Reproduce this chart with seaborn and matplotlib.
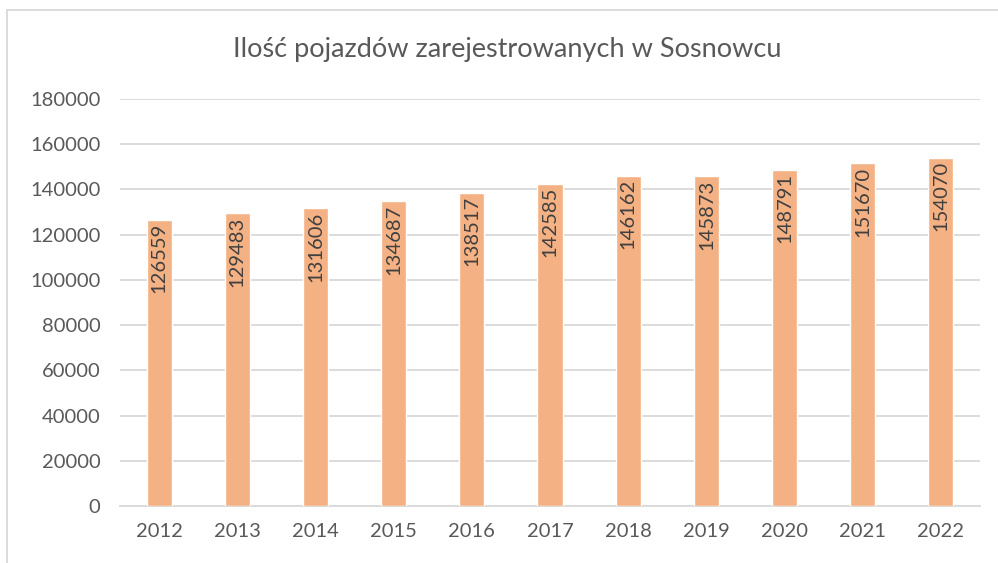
import matplotlib
matplotlib.use("Agg")
import matplotlib.pyplot as plt
import seaborn as sns
import pandas as pd

years = ["2012", "2013", "2014", "2015", "2016", "2017", "2018", "2019", "2020", "2021", "2022"]
vehicles = [126559, 129483, 131606, 134687, 138517, 142585, 146162, 145873, 148791, 151670, 154070]
title = "Ilość pojazdów zarejestrowanych w Sosnowcu"

sns.set_theme(style="white")
plt.rcParams['font.family'] = ['Lato', 'DejaVu Sans']

df = pd.DataFrame({"year": years, "count": vehicles})
text_col = "#595959"
grid_col = "#D9D9D9"

fig = plt.figure(figsize=(9.98, 5.63), dpi=100)
ax = fig.add_axes([120/998, 1 - 506/563, (980-120)/998, (506-99)/563])

sns.barplot(data=df, x="year", y="count", color="#F4B183", width=0.32,
            saturation=1, ax=ax, zorder=3)

ax.set_ylim(0, 180000)
ax.set_yticks(range(0, 180001, 20000))
ax.yaxis.grid(True, color=grid_col, linewidth=1.3, zorder=0)
ax.set_axisbelow(True)
for s in ["top", "right", "left"]:
    ax.spines[s].set_visible(False)
ax.spines["bottom"].set_color(grid_col)
ax.spines["bottom"].set_linewidth(1.3)
ax.set_xlabel("")
ax.set_ylabel("")
ax.tick_params(axis="both", length=0, labelsize=14.5, colors=text_col)
ax.tick_params(axis="x", pad=12)
ax.tick_params(axis="y", pad=14)

for i, v in enumerate(vehicles):
    ax.text(i, v - 1500, str(v), rotation=90, ha="center", va="top",
            fontsize=14.5, color="#404040", zorder=4)

fig.text(507/998, 1 - 49/563, title, ha="center", va="center",
         fontsize=19.5, color=text_col)

# chart border (left and top visible)
fig.add_artist(plt.Line2D([7/998, 7/998], [0, 1 - 10/563], transform=fig.transFigure,
                          color=grid_col, linewidth=1.3))
fig.add_artist(plt.Line2D([7/998, 1], [1 - 10/563, 1 - 10/563], transform=fig.transFigure,
                          color=grid_col, linewidth=1.3))

fig.savefig("out.png", dpi=100)
